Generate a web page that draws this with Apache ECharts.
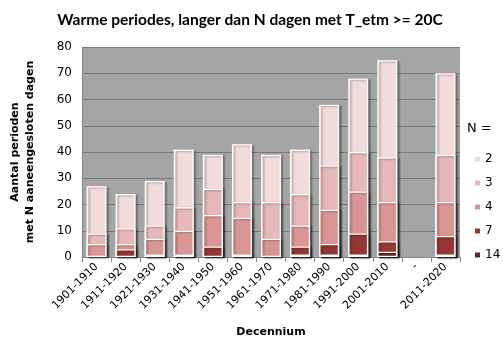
<!DOCTYPE html>
<html><head><meta charset="utf-8">
<script src="https://cdn.jsdelivr.net/npm/echarts@6/dist/echarts.min.js"></script>
<style>html,body{margin:0;padding:0;background:#fff}#c{width:503px;height:344px}</style>
</head><body><div id="c"></div>
<script>
const categories = ['1901-1910','1911-1920','1921-1930','1931-1940','1941-1950','1951-1960','1961-1970','1971-1980','1981-1990','1991-2000','2001-2010','-','2011-2020'];
const n2  = [27,24,29,41,39,43,39,41,58,68,75,null,70];
const n3  = [9,11,12,19,26,21,21,24,35,40,38,null,39];
const n4  = [5,5,7,10,16,15,7,12,18,25,21,null,21];
const n7  = [0,3,1,1,4,1,0,4,5,9,6,null,8];
const n14 = [0,0,0,0,0,0,0,1,1,1,2,null,1];
const seriesNames = ['2','3','4','7','14'];
const seriesData = [n2,n3,n4,n7,n14];
const colors = ['#f2dcdb','#e6b9b8','#d99694','#953735','#632523'];
const yTicks = {min:0,max:80,interval:10};

const chart = echarts.init(document.getElementById('c'));
const font = 'Verdana, "DejaVu Sans", sans-serif';
chart.setOption({
  animation:false,
  title:{text:'Warme periodes, langer dan N dagen met T_etm >= 20C',left:245,top:7,textAlign:'center',
    textStyle:{fontFamily:'Lato, "Open Sans", sans-serif',fontWeight:'bold',fontSize:15.5,color:'#000'}},
  graphic:[{type:'text',left:467,top:122,style:{text:'N =',font:'13px '+font,fill:'#000'}}],
  legend:{orient:'vertical',left:468,top:148,itemWidth:7,itemHeight:7,itemGap:12,icon:'rect',
    data:seriesNames,textStyle:{fontFamily:font,fontSize:12,color:'#000',padding:[0,0,0,-1]}},
  grid:{left:81,right:43,top:47,bottom:87,show:true,backgroundColor:'#a5a5a5',borderWidth:0},
  xAxis:{type:'category',data:categories,name:'Decennium',nameLocation:'middle',nameGap:70,
    nameTextStyle:{fontFamily:font,fontWeight:'bold',fontSize:11,color:'#000'},
    axisLine:{lineStyle:{color:'#868686'}},
    axisTick:{show:true,length:5,lineStyle:{color:'#868686'}},
    axisLabel:{rotate:45,interval:0,fontFamily:font,fontSize:11,color:'#000',margin:8}},
  yAxis:{type:'value',min:yTicks.min,max:yTicks.max,interval:yTicks.interval,
    name:'Aantal perioden\nmet N aaneengesloten dagen',nameLocation:'middle',nameGap:44,nameRotate:90,
    nameTextStyle:{fontFamily:font,fontWeight:'bold',fontSize:11,color:'#000',lineHeight:15},
    axisLine:{show:true,lineStyle:{color:'#868686'}},
    axisTick:{show:false},
    axisLabel:{fontFamily:font,fontSize:12,color:'#000',margin:10},
    splitLine:{lineStyle:{color:'#7a7a7a',width:1}}},
  series:seriesData.map((d,i)=>({
    name:seriesNames[i],type:'bar',data:d.map(v=>v===0?null:v),barWidth:20,barGap:'-100%',z:2+i,
    itemStyle:{color:colors[i],borderColor:'#fff',borderWidth:1.3,
      shadowColor:'rgba(0,0,0,0.3)',shadowBlur:2,shadowOffsetX:2,shadowOffsetY:1}
  }))
});
</script></body></html>
